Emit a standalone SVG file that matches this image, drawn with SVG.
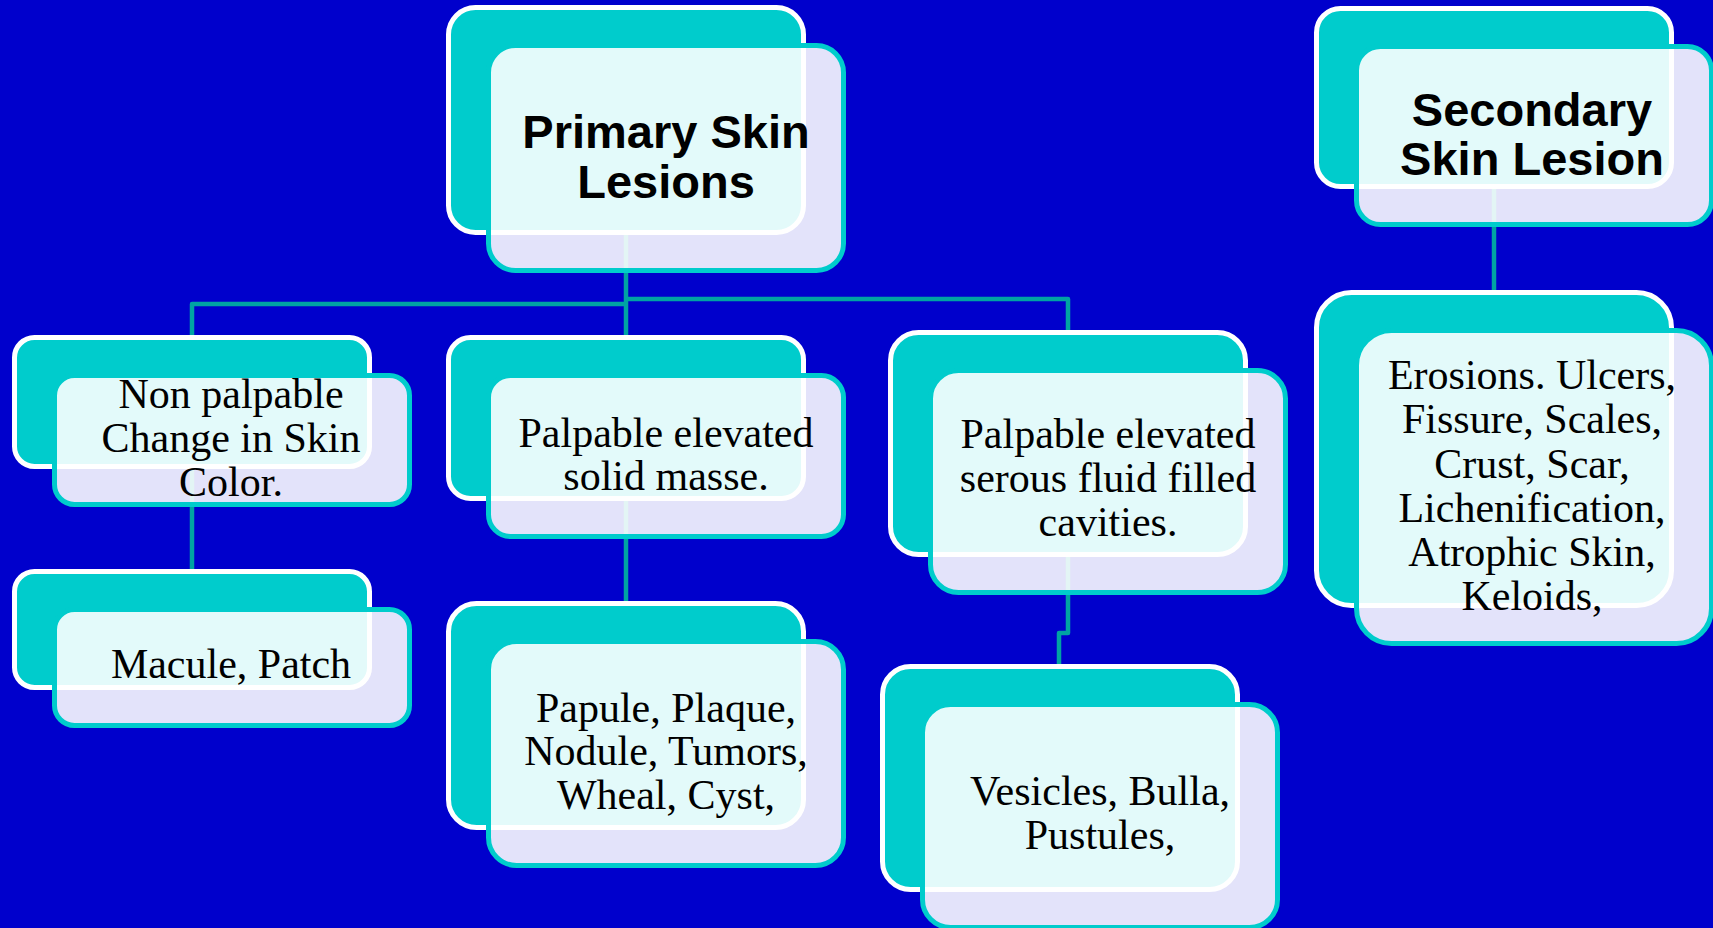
<svg xmlns="http://www.w3.org/2000/svg" width="1713" height="928" viewBox="0 0 1713 928">
<style>
.bg{fill:#0000CC}
.back{fill:#00CCCC;stroke:#FFFFFF;stroke-width:5}
.front{fill:#FFFFFF;fill-opacity:0.89;stroke:#00CCCC;stroke-width:5}
.conn{fill:none;stroke:#00A3A3;stroke-width:4.5;stroke-linejoin:round}
.h{font-family:"Liberation Sans",Arial,sans-serif;font-weight:bold;font-size:47px;fill:#000;text-anchor:middle}
.t{font-family:"Liberation Serif","Times New Roman",serif;font-size:42px;fill:#000;text-anchor:middle}
</style>
<rect class="bg" x="0" y="0" width="1713" height="928"/>
<g id="connectors">
<path class="conn" d="M626,232 V304"/>
<path class="conn" d="M626,304 H192 V338"/>
<path class="conn" d="M626,304 V338"/>
<path class="conn" d="M626,299 H1068 V333"/>
<path class="conn" d="M192,466 V572"/>
<path class="conn" d="M626,498 V604"/>
<path class="conn" d="M1068,554 V633 H1059 V667"/>
<path class="conn" d="M1494,186 V293"/>
</g>
<g id="primary">
<rect class="back" x="448.5" y="7.5" width="355" height="225" rx="27"/>
<rect class="front" x="488.5" y="45.5" width="355" height="225" rx="27"/>
<text class="h" x="666" y="148">Primary Skin</text>
<text class="h" x="666" y="198">Lesions</text>
</g>
<g id="secondary">
<rect class="back" x="1316.5" y="8.5" width="355" height="178" rx="24"/>
<rect class="front" x="1356.5" y="46.5" width="355" height="178" rx="24"/>
<text class="h" x="1532" y="126">Secondary</text>
<text class="h" x="1532" y="175">Skin Lesion</text>
</g>
<g id="nonpalpable">
<rect class="back" x="14.5" y="337.5" width="355" height="129" rx="20"/>
<rect class="front" x="54.5" y="375.5" width="355" height="129" rx="20"/>
<text class="t" x="231" y="408">Non palpable</text>
<text class="t" x="231" y="452">Change in Skin</text>
<text class="t" x="231" y="496">Color.</text>
</g>
<g id="macule">
<rect class="back" x="14.5" y="571.5" width="355" height="116" rx="20"/>
<rect class="front" x="54.5" y="609.5" width="355" height="116" rx="20"/>
<text class="t" x="231" y="678">Macule, Patch</text>
</g>
<g id="palpable-solid">
<rect class="back" x="448.5" y="337.5" width="355" height="161" rx="22"/>
<rect class="front" x="488.5" y="375.5" width="355" height="161" rx="22"/>
<text class="t" x="666" y="447">Palpable elevated</text>
<text class="t" x="666" y="490">solid masse.</text>
</g>
<g id="papule">
<rect class="back" x="448.5" y="603.5" width="355" height="224" rx="28"/>
<rect class="front" x="488.5" y="641.5" width="355" height="224" rx="28"/>
<text class="t" x="666" y="722">Papule, Plaque,</text>
<text class="t" x="666" y="765">Nodule, Tumors,</text>
<text class="t" x="666" y="809">Wheal, Cyst,</text>
</g>
<g id="serous">
<rect class="back" x="890.5" y="332.5" width="355" height="222" rx="28"/>
<rect class="front" x="930.5" y="370.5" width="355" height="222" rx="28"/>
<text class="t" x="1108" y="448">Palpable elevated</text>
<text class="t" x="1108" y="492">serous fluid filled</text>
<text class="t" x="1108" y="536">cavities.</text>
</g>
<g id="vesicles">
<rect class="back" x="882.5" y="666.5" width="355" height="223" rx="28"/>
<rect class="front" x="922.5" y="704.5" width="355" height="223" rx="28"/>
<text class="t" x="1100" y="805">Vesicles, Bulla,</text>
<text class="t" x="1100" y="849">Pustules,</text>
</g>
<g id="erosions">
<rect class="back" x="1316.5" y="292.5" width="355" height="313" rx="35"/>
<rect class="front" x="1356.5" y="330.5" width="355" height="313" rx="35"/>
<text class="t" x="1532" y="389">Erosions. Ulcers,</text>
<text class="t" x="1532" y="433">Fissure, Scales,</text>
<text class="t" x="1532" y="478">Crust, Scar,</text>
<text class="t" x="1532" y="522">Lichenification,</text>
<text class="t" x="1532" y="566">Atrophic Skin,</text>
<text class="t" x="1532" y="610">Keloids,</text>
</g>
</svg>
